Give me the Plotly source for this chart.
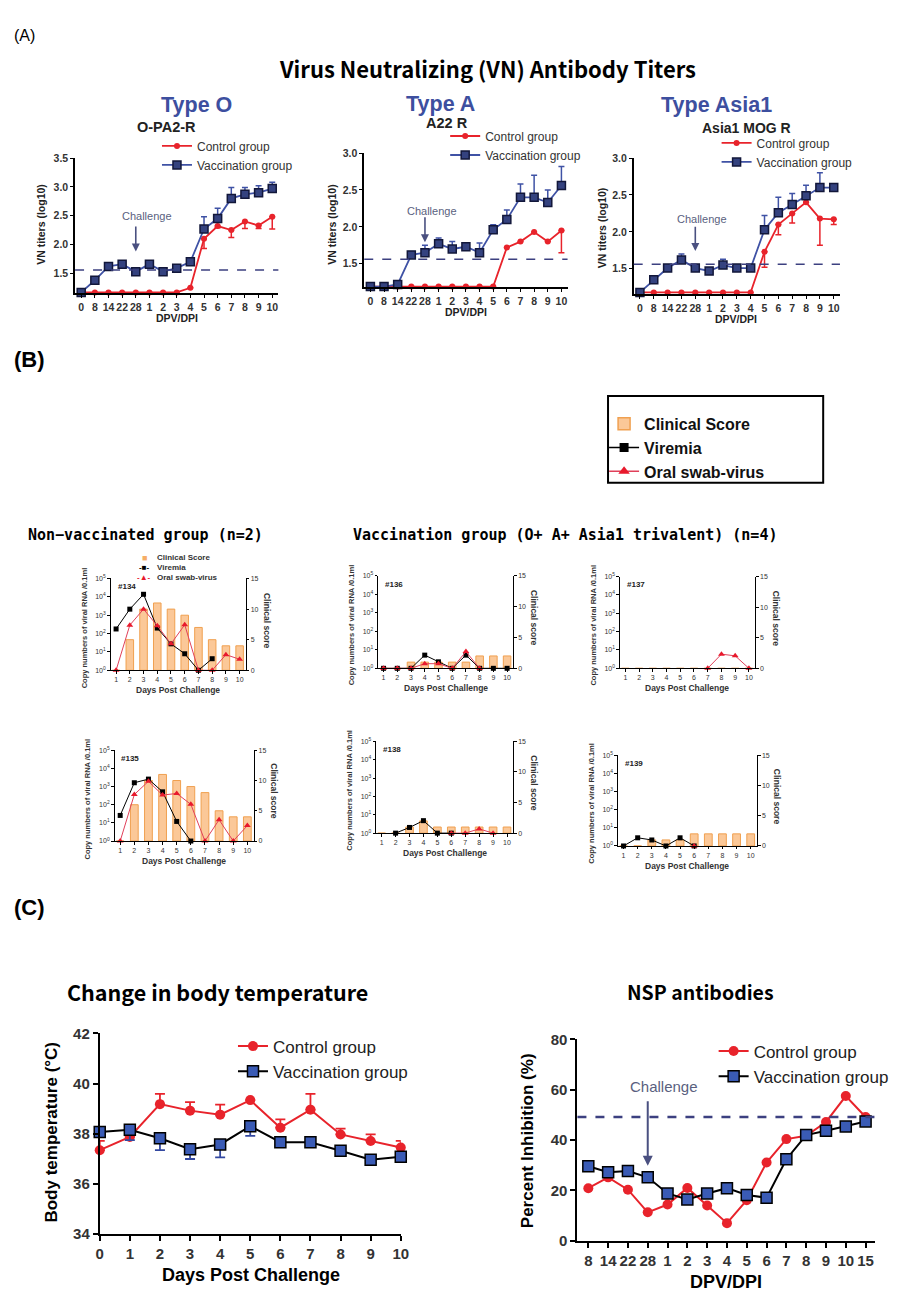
import plotly.graph_objects as go

W, H = 921, 1307
FONT = "Liberation Sans, Arial, sans-serif"
HFONT = "Noto Sans CJK KR, Noto Sans, sans-serif"
MFONT = "DejaVu Sans Mono, Liberation Mono, monospace"


def fx(p):
    return p / W


def fy(p):
    return 1 - p / H


def xn(k):
    return "x" if k == 1 else f"x{k}"


def yn(k):
    return "y" if k == 1 else f"y{k}"


def xk(k):
    return "xaxis" if k == 1 else f"xaxis{k}"


def yk(k):
    return "yaxis" if k == 1 else f"yaxis{k}"


# ---------------- Panel A data (VN titers, log10) ----------------
A_TICKS = ["0", "8", "14", "22", "28", "1", "2", "3", "4", "5", "6", "7", "8", "9", "10"]

O_VACC = [1.17, 1.38, 1.62, 1.66, 1.53, 1.66, 1.53, 1.59, 1.70, 2.27, 2.45, 2.80, 2.87, 2.90, 2.97]
O_VACC_ERR = [0, 0, 0.02, 0.03, 0, 0, 0, 0.02, 0, 0.21, 0.18, 0.19, 0.12, 0.12, 0.11]
O_CTRL = [1.17, 1.17, 1.17, 1.17, 1.17, 1.17, 1.17, 1.17, 1.25, 2.10, 2.32, 2.25, 2.40, 2.33, 2.48]
O_CTRL_ERR = [0, 0, 0, 0, 0, 0, 0, 0, 0, 0.17, 0.03, 0.13, 0.12, 0.05, 0.21]

TA_VACC = [1.19, 1.19, 1.22, 1.62, 1.65, 1.77, 1.70, 1.73, 1.65, 1.96, 2.10, 2.40, 2.40, 2.33, 2.56]
TA_VACC_ERR = [0, 0, 0, 0.03, 0.10, 0.08, 0.10, 0.02, 0.13, 0.07, 0.13, 0.18, 0.30, 0.17, 0.26]
TA_CTRL = [1.19, 1.19, 1.19, 1.19, 1.19, 1.19, 1.19, 1.19, 1.19, 1.19, 1.72, 1.80, 1.93, 1.80, 1.95]
TA_CTRL_ERR = [0, 0, 0, 0, 0, 0, 0, 0, 0, 0, 0, 0, 0, 0, 0.30]

AS_VACC = [1.18, 1.35, 1.51, 1.62, 1.51, 1.47, 1.55, 1.51, 1.51, 2.03, 2.26, 2.37, 2.49, 2.60, 2.60]
AS_VACC_ERR = [0, 0, 0, 0.08, 0, 0, 0.08, 0, 0, 0.19, 0.21, 0.15, 0.14, 0.20, 0.04]
AS_CTRL = [1.18, 1.18, 1.18, 1.18, 1.18, 1.18, 1.18, 1.18, 1.18, 1.73, 2.10, 2.25, 2.40, 2.18, 2.17]
AS_CTRL_ERR = [0, 0, 0, 0, 0, 0, 0, 0, 0, 0.21, 0.14, 0.13, 0, 0.36, 0.07]

VN_CUTOFF = 1.56

# ---------------- Panel B data ----------------
B_DAYS = [1, 2, 3, 4, 5, 6, 7, 8, 9, 10]
B_LOG_TICKS = [1, 10, 100, 1000, 10000, 100000]
B_LOG_TEXT = ["10<sup>0</sup>", "10<sup>1</sup>", "10<sup>2</sup>", "10<sup>3</sup>",
              "10<sup>4</sup>", "10<sup>5</sup>"]

# clinical score (bars), viremia & oral swab (log10 copies)
CS_134 = [0, 5, 10, 11, 10, 9, 7, 5, 4, 4]
VIR_134 = [2.25, 3.33, 4.14, 2.30, 1.44, 0.90, 0.00, 0.63, None, None]
ORAL_134 = [0.00, 2.46, 3.33, 2.43, 1.44, 2.48, 0.00, 0.00, 0.85, 0.60]

CS_135 = [0, 6, 10, 11, 10, 9, 8, 5, 4, 4]
VIR_135 = [1.41, 3.21, 3.41, 2.71, 1.08, 0.00, None, None, None, None]
ORAL_135 = [0.00, 2.56, 3.29, 2.53, 2.62, 2.02, 0.00, 1.17, 0.00, 0.85]

CS_136 = [0, 0, 1, 1, 1, 1, 1, 2, 2, 2]
VIR_136 = [0.00, 0.00, 0.00, 0.71, 0.35, 0.00, 0.71, 0.00, 0.00, 0.00]
ORAL_136 = [0.00, 0.00, 0.00, 0.25, 0.25, 0.00, 0.90, 0.00, None, None]

CS_137 = [0, 0, 0, 0, 0, 0, 0, 0, 0, 0]
VIR_137 = [None, None, None, None, None, None, None, None, None, None]
ORAL_137 = [None, None, None, None, None, None, 0.00, 0.77, 0.68, 0.00]

CS_138 = [0, 0, 1, 2, 1, 1, 1, 1, 1, 1]
VIR_138 = [None, 0.00, 0.31, 0.68, 0.00, 0.00, None, None, None, None]
ORAL_138 = [None, None, None, None, None, 0.00, 0.00, 0.23, 0.00, None]

CS_139 = [0, 0, 1, 1, 1, 2, 2, 2, 2, 2]
VIR_139 = [0.00, 0.45, 0.33, 0.00, 0.45, 0.00, None, None, None, None]
ORAL_139 = [None, None, None, None, None, 0.00, None, None, None, None]

# ---------------- Panel C data ----------------
TEMP_DAYS = [0, 1, 2, 3, 4, 5, 6, 7, 8, 9, 10]
TEMP_CTRL = [37.34, 37.87, 39.18, 38.92, 38.76, 39.34, 38.24, 38.96, 37.97, 37.71, 37.45]
TEMP_CTRL_ERR = [0.37, 0, 0.41, 0.34, 0.40, 0, 0.33, 0.63, 0.23, 0.26, 0.26]
TEMP_VACC = [38.07, 38.16, 37.82, 37.38, 37.57, 38.30, 37.66, 37.66, 37.32, 36.96, 37.08]
TEMP_VACC_ERR = [0, 0.42, 0.48, 0.39, 0.52, 0.39, 0, 0, 0, 0, 0]

NSP_TICKS = ["8", "14", "22", "28", "1", "2", "3", "4", "5", "6", "7", "8", "9", "10", "15"]
NSP_CTRL = [20.9, 25.2, 20.3, 11.3, 14.4, 21.0, 14.0, 7.0, 16.1, 31.1, 40.4, 41.7, 47.2, 57.5, 49.2]
NSP_VACC = [29.6, 27.2, 27.7, 25.2, 18.8, 16.4, 18.8, 20.9, 18.2, 17.1, 32.4, 42.0, 43.7, 45.4, 47.4]
NSP_CUTOFF = 49.2

# ---------------- colours ----------------
RED = "#e8232b"
BLUE_LINE = "#3f52a5"
NAVY_FILL = "#34427f"
NAVY_EDGE = "#12173a"
DASH_COL = "#3c4080"
ARROW_COL = "#4a5080"
ORANGE = "#fbc898"
ORANGE_EDGE = "#f0a050"
PINK = "#e0405a"
TICK_COL = "#333333"

fig = go.Figure()
lay = {}
ann = []
shp = []


def text(x, y, s, size, bold=False, color="black", family=FONT, xanchor="center",
         yanchor="middle", angle=0):
    ann.append(dict(x=fx(x), y=fy(y), xref="paper", yref="paper", text=s, showarrow=False,
                    xanchor=xanchor, yanchor=yanchor, textangle=angle,
                    font=dict(family=family, size=size, color=color,
                              weight="bold" if bold else "normal")))


# ====================== PANEL A ======================
def panel_a(k, box, yrange, vacc, vacc_err, ctrl, ctrl_err, legname, legpos, chal):
    x0, x1, ytop, ybot = box
    idx = list(range(len(A_TICKS)))
    lay[xk(k)] = dict(domain=[fx(x0), fx(x1)], range=[-0.45, 14.45], anchor=yn(k),
                      tickmode="array", tickvals=idx, ticktext=A_TICKS, tickangle=0,
                      showline=True, linecolor="black", linewidth=1.5, ticks="outside",
                      ticklen=3, tickwidth=1.2, tickcolor="black",
                      tickfont=dict(family=FONT, size=10.5, color=TICK_COL, weight="bold"),
                      showgrid=False, zeroline=False)
    lay[yk(k)] = dict(domain=[fy(ybot), fy(ytop)], range=yrange, anchor=xn(k),
                      tickmode="array", tickvals=[1.5, 2.0, 2.5, 3.0, 3.5], tickformat=".1f",
                      showline=True, linecolor="black", linewidth=1.5, ticks="outside",
                      ticklen=3, tickwidth=1.2, tickcolor="black",
                      tickfont=dict(family=FONT, size=10.5, color=TICK_COL, weight="bold"),
                      showgrid=False, zeroline=False)
    fig.add_trace(go.Scatter(
        x=idx, y=ctrl, xaxis=xn(k), yaxis=yn(k), mode="lines+markers", name="Control group",
        legend=legname, cliponaxis=False,
        line=dict(color=RED, width=1.8), marker=dict(symbol="circle", size=6, color=RED),
        error_y=dict(type="data", symmetric=False, array=[0] * len(idx), arrayminus=ctrl_err,
                     color=RED, thickness=1.5, width=3)))
    fig.add_trace(go.Scatter(
        x=idx, y=vacc, xaxis=xn(k), yaxis=yn(k), mode="lines+markers", name="Vaccination group",
        legend=legname, cliponaxis=False,
        line=dict(color=BLUE_LINE, width=1.8),
        marker=dict(symbol="square", size=8, color=NAVY_FILL, line=dict(color=NAVY_EDGE, width=1.5)),
        error_y=dict(type="data", symmetric=False, array=vacc_err, arrayminus=[0] * len(idx),
                     color=BLUE_LINE, thickness=1.5, width=3)))
    shp.append(dict(type="line", xref=f"{xn(k)} domain", yref=yn(k), x0=0, x1=1,
                    y0=VN_CUTOFF, y1=VN_CUTOFF, line=dict(color=DASH_COL, width=1.5, dash="dash")))
    lx, ly = legpos
    lay[legname] = dict(x=fx(lx), y=fy(ly), xanchor="left", yanchor="top",
                        bgcolor="rgba(0,0,0,0)", font=dict(family=FONT, size=12, color=TICK_COL),
                        tracegroupgap=0)
    tx, ty, ax_x, ay_top, ay_tip = chal
    ann.append(dict(x=tx, y=ty, xref=xn(k), yref=yn(k), text="Challenge", showarrow=False,
                    font=dict(family=FONT, size=11, color="#5a5f80")))
    ann.append(dict(x=ax_x, y=ay_tip, ax=ax_x, ay=ay_top, xref=xn(k), yref=yn(k),
                    axref=xn(k), ayref=yn(k), text="", showarrow=True, arrowhead=2,
                    arrowsize=1, arrowwidth=1.6, arrowcolor=ARROW_COL))


panel_a(1, (72, 278, 151, 288), [1.155, 3.5], O_VACC, O_VACC_ERR, O_CTRL, O_CTRL_ERR,
        "legend", (155, 124), (4.8, 2.49, 4, 2.34, 1.88))
panel_a(2, (365, 571, 146, 282), [1.18, 3.0], TA_VACC, TA_VACC_ERR, TA_CTRL, TA_CTRL_ERR,
        "legend2", (447, 114), (4.5, 2.22, 4, 2.15, 1.79))
panel_a(3, (638, 847, 151, 289), [1.155, 3.0], AS_VACC, AS_VACC_ERR, AS_CTRL, AS_CTRL_ERR,
        "legend3", (722, 121), (4.5, 2.18, 4, 2.09, 1.74))

text(8, 27, "(A)", 16, family=FONT, xanchor="left")
text(490, 60, "Virus Neutralizing (VN) Antibody Titers", 22, bold=True, family=HFONT)
text(195, 97, "Type O", 21.5, bold=True, color="#3d4f9f")
text(165, 120, "O-PA2-R", 14.5, bold=True, color="#222")
text(442, 96, "Type A", 21.5, bold=True, color="#3d4f9f")
text(449, 116, "A22 R", 14.5, bold=True, color="#222")
text(722, 97, "Type Asia1", 21.5, bold=True, color="#3d4f9f")
text(752, 121, "Asia1 MOG R", 14, bold=True, color="#222")
for (cx, cy) in [(175, 313), (468, 307), (742, 314)]:
    text(cx, cy, "DPV/DPI", 10.5, bold=True, color="#222")
for (cx, cy) in [(38, 218), (332, 218), (606, 222)]:
    text(cx, cy, "VN titers (log10)", 10.5, bold=True, color="#222", angle=-90)

# ====================== PANEL B ======================
b_specs = [
    # xk, base y (clinical), overlay y (log), box (x0,x1,top,bottom), data, tag
    (4, 4, 5, (108, 245, 577, 670), CS_134, VIR_134, ORAL_134, "#134"),
    (5, 6, 7, (379, 516, 574, 668), CS_136, VIR_136, ORAL_136, "#136"),
    (6, 8, 9, (624, 761, 575, 668), CS_137, VIR_137, ORAL_137, "#137"),
    (7, 10, 11, (112, 253, 751, 843), CS_135, VIR_135, ORAL_135, "#135"),
    (8, 12, 13, (377, 516, 742, 835), CS_138, VIR_138, ORAL_138, "#138"),
    (9, 14, 15, (622, 763, 756, 848), CS_139, VIR_139, ORAL_139, "#139"),
]
small_tick = dict(family=FONT, size=7, color=TICK_COL)
for (kx, kc, kl, box, cs, vir, oral, tag) in b_specs:
    x0, x1, ytop, ybot = box
    common = dict(showline=True, linecolor="black", linewidth=1, ticks="outside", ticklen=2.5,
                  tickwidth=1, tickcolor="black", tickfont=small_tick, showgrid=False,
                  zeroline=False)
    lay[xk(kx)] = dict(domain=[fx(x0), fx(x1)], range=[0.6, 10.45], anchor=yn(kc),
                       tickmode="array", tickvals=B_DAYS, tickangle=0, **common)
    lay[yk(kc)] = dict(domain=[fy(ybot), fy(ytop)], range=[0, 15], anchor=xn(kx), side="right",
                       tickmode="array", tickvals=[0, 5, 10, 15], **common)
    lay[yk(kl)] = dict(overlaying=yn(kc), anchor=xn(kx), side="left", type="log", range=[0, 5],
                       tickmode="array", tickvals=B_LOG_TICKS, ticktext=B_LOG_TEXT, **common)
    fig.add_trace(go.Bar(x=B_DAYS, y=cs, xaxis=xn(kx), yaxis=yn(kc), width=0.55, showlegend=False,
                         marker=dict(color=ORANGE, line=dict(color=ORANGE_EDGE, width=1))))
    fig.add_trace(go.Scatter(x=B_DAYS, y=[None if v is None else 10 ** v for v in vir],
                             xaxis=xn(kx), yaxis=yn(kl), mode="lines+markers", showlegend=False,
                             cliponaxis=False, line=dict(color="black", width=1),
                             marker=dict(symbol="square", size=5, color="black")))
    fig.add_trace(go.Scatter(x=B_DAYS, y=[None if v is None else 10 ** v for v in oral],
                             xaxis=xn(kx), yaxis=yn(kl), mode="lines+markers", showlegend=False,
                             cliponaxis=False, line=dict(color=PINK, width=1),
                             marker=dict(symbol="triangle-up", size=6, color="#e8192c")))
    text(x0 + 5, ytop + 2, tag, 8, bold=True, color="#222", xanchor="left", yanchor="top")
    text(x0 - 27, (ytop + ybot) / 2 + 3, "Copy numbers of viral RNA /0.1ml", 7.5, bold=True,
         color="#333", angle=-90)
    text(x1 + 21, (ytop + ybot) / 2 - 4, "Clinical score", 8.5, bold=True, color="#333", angle=90)
    text((x0 + x1) / 2, ybot + 20, "Days Post Challenge", 8.5, bold=True, color="#333")

# legend-only entries for the boxed legend of panel B
fig.add_trace(go.Bar(x=[None], y=[None], xaxis="x4", yaxis="y4", name="<b>Clinical Score</b>",
                     legend="legend4",
                     marker=dict(color=ORANGE, line=dict(color=ORANGE_EDGE, width=1.5))))
fig.add_trace(go.Scatter(x=[None], y=[None], xaxis="x4", yaxis="y5", name="<b>Viremia</b>",
                         legend="legend4", mode="lines+markers", line=dict(color="black", width=1.5),
                         marker=dict(symbol="square", size=9, color="black")))
fig.add_trace(go.Scatter(x=[None], y=[None], xaxis="x4", yaxis="y5", name="<b>Oral swab-virus</b>",
                         legend="legend4", mode="lines+markers", line=dict(color=PINK, width=1.5),
                         marker=dict(symbol="triangle-up", size=10, color="#e8192c")))
lay["legend4"] = dict(x=fx(608), y=fy(403), xanchor="left", yanchor="top",
                      bgcolor="rgba(0,0,0,0)", font=dict(family=FONT, size=16, color="#111"),
                      tracegroupgap=0)
shp.append(dict(type="rect", xref="paper", yref="paper", x0=fx(612), x1=fx(830), y0=fy(480),
                y1=fy(392), line=dict(color="black", width=2)))

# compact in-plot legend of #134 (text only)
text(142, 556, '<span style="color:#f6ad66">■</span>', 9, xanchor="center")
text(142, 566, "-■-", 8, bold=True, xanchor="center")
text(142, 576, '<span style="color:#e8192c">-▲-</span>', 8, bold=True, xanchor="center")
text(153, 556, "Clinical Score", 8, bold=True, color="#333", xanchor="left")
text(153, 566, "Viremia", 8, bold=True, color="#333", xanchor="left")
text(153, 576, "Oral swab-virus", 8, bold=True, color="#333", xanchor="left")

text(8, 355, "(B)", 22, bold=True, xanchor="left")
text(22, 533, "Non\u2212vaccinated group (n=2)", 15, bold=True, family=MFONT, xanchor="left")
text(352, 533, "Vaccination group (O+ A+ Asia1 trivalent) (n=4)", 15, bold=True, family=MFONT,
     xanchor="left")

# ====================== PANEL C ======================
big_tick = dict(family=FONT, size=15, color=TICK_COL, weight="bold")
c_common = dict(showline=True, linecolor="black", linewidth=2, ticks="outside", ticklen=5,
                tickwidth=2, tickcolor="black", tickfont=big_tick, showgrid=False, zeroline=False)
lay[xk(10)] = dict(domain=[fx(97), fx(402)], range=[0, 10], anchor=yn(16), tickmode="array",
                   tickvals=TEMP_DAYS, tickangle=0, **c_common)
lay[yk(16)] = dict(domain=[fy(1241), fy(1038)], range=[34, 42], anchor=xn(10), tickmode="array",
                   tickvals=[34, 36, 38, 40, 42], **c_common)
fig.add_trace(go.Scatter(
    x=TEMP_DAYS, y=TEMP_CTRL, xaxis="x10", yaxis="y16", mode="lines+markers", name="Control group",
    legend="legend6", cliponaxis=False, line=dict(color=RED, width=2),
    marker=dict(symbol="circle", size=10, color=RED),
    error_y=dict(type="data", symmetric=False, array=TEMP_CTRL_ERR, arrayminus=[0] * 11,
                 color=RED, thickness=1.8, width=5)))
fig.add_trace(go.Scatter(
    x=TEMP_DAYS, y=TEMP_VACC, xaxis="x10", yaxis="y16", mode="lines+markers",
    name="Vaccination group", legend="legend6", cliponaxis=False, line=dict(color="black", width=2),
    marker=dict(symbol="square", size=11, color="#3a5bb5", line=dict(color="black", width=1.5)),
    error_y=dict(type="data", symmetric=False, array=[0] * 11, arrayminus=TEMP_VACC_ERR,
                 color="#3348a0", thickness=1.8, width=5)))
lay["legend6"] = dict(x=fx(232), y=fy(1033), xanchor="left", yanchor="top",
                      bgcolor="rgba(0,0,0,0)", font=dict(family=FONT, size=17, color="#222"),
                      tracegroupgap=0)

nidx = list(range(len(NSP_TICKS)))
lay[xk(11)] = dict(domain=[fx(581), fx(882)], range=[-0.55, 14.45], anchor=yn(17),
                   tickmode="array", tickvals=nidx, ticktext=NSP_TICKS, tickangle=0, **c_common)
lay[yk(17)] = dict(domain=[fy(1248), fy(1044)], range=[0, 80], anchor=xn(11), tickmode="array",
                   tickvals=[0, 20, 40, 60, 80], **c_common)
fig.add_trace(go.Scatter(
    x=nidx, y=NSP_CTRL, xaxis="x11", yaxis="y17", mode="lines+markers", name="Control group",
    legend="legend7", cliponaxis=False, line=dict(color=RED, width=2),
    marker=dict(symbol="circle", size=10, color=RED)))
fig.add_trace(go.Scatter(
    x=nidx, y=NSP_VACC, xaxis="x11", yaxis="y17", mode="lines+markers", name="Vaccination group",
    legend="legend7", cliponaxis=False, line=dict(color="black", width=2),
    marker=dict(symbol="square", size=11, color="#3a5bb5", line=dict(color="black", width=1.5))))
lay["legend7"] = dict(x=fx(719), y=fy(1038), xanchor="left", yanchor="top",
                      bgcolor="rgba(0,0,0,0)", font=dict(family=FONT, size=17, color="#222"),
                      tracegroupgap=0)
shp.append(dict(type="line", xref="x11 domain", yref="y17", x0=0, x1=1.02, y0=NSP_CUTOFF,
                y1=NSP_CUTOFF, line=dict(color=DASH_COL, width=2.5, dash="dash")))
ann.append(dict(x=3.8, y=61.2, xref="x11", yref="y17", text="Challenge", showarrow=False,
                font=dict(family=FONT, size=15, color="#5a5f80")))
ann.append(dict(x=3, y=29.8, ax=3, ay=56, xref="x11", yref="y17", axref="x11", ayref="y17",
                text="", showarrow=True, arrowhead=2, arrowsize=1, arrowwidth=2,
                arrowcolor=ARROW_COL))

text(8, 910, "(C)", 22, bold=True, xanchor="left")
text(216, 995, "Change in body temperature", 21.5, bold=True, family=HFONT)
text(706, 995, "NSP antibodies", 19.5, bold=True, family=HFONT)
text(48, 1138, "Body temperature (°C)", 17, bold=True, angle=-90)
text(530, 1147, "Percent Inhibition (%)", 17, bold=True, angle=-90)
text(250, 1283, "Days Post Challenge", 18, bold=True)
text(732, 1290, "DPV/DPI", 18, bold=True)

fig.update_layout(**lay)
fig.update_layout(width=W, height=H, margin=dict(l=0, r=0, t=0, b=0), autosize=False,
                  paper_bgcolor="white", plot_bgcolor="white", barmode="overlay",
                  annotations=ann, shapes=shp, font=dict(family=FONT))
fig.write_html("out.html")
